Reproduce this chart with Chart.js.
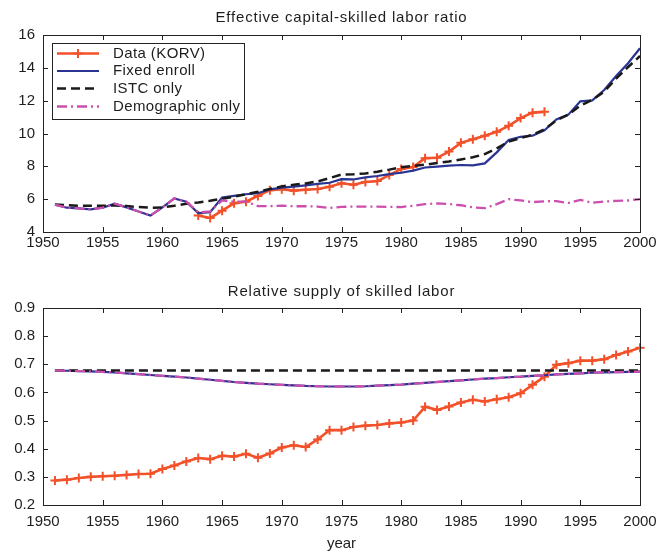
<!DOCTYPE html>
<html>
<head>
<meta charset="utf-8">
<script src="https://cdn.jsdelivr.net/npm/chart.js@4"></script>
<style>
  html, body { margin: 0; padding: 0; background: #fff; }
  #wrap { position: relative; width: 658px; height: 553px; }
  canvas { position: absolute; left: 0; }
  #c1 { top: 0; }
  #c2 { top: 280px; }
</style>
</head>
<body>
<div id="wrap">
  <canvas id="c1" width="658" height="260"></canvas>
  <canvas id="c2" width="658" height="273"></canvas>
</div>
<script>
// ---- Years ----
const modelYears = [1951,1952,1953,1954,1955,1956,1957,1958,1959,1960,
  1961,1962,1963,1964,1965,1966,1967,1968,1969,1970,
  1971,1972,1973,1974,1975,1976,1977,1978,1979,1980,
  1981,1982,1983,1984,1985,1986,1987,1988,1989,1990,
  1991,1992,1993,1994,1995,1996,1997,1998,1999,2000];
const korvYearsRatio = [1963,1964,1965,1966,1967,1968,1969,1970,1971,1972,
  1973,1974,1975,1976,1977,1978,1979,1980,1981,1982,
  1983,1984,1985,1986,1987,1988,1989,1990,1991,1992];
const korvYearsSupply = modelYears;

// ---- Effective capital-skilled labor ratio ----
const ratioData = [5.0,4.85,5.3,5.75,5.85,6.2,6.55,6.6,6.52,6.57,
  6.62,6.76,6.97,6.88,7.05,7.1,7.47,7.84,7.96,8.5,
  8.52,8.9,9.43,9.65,9.86,10.1,10.47,10.94,11.27,11.32];
const ratioFixedEnroll = [5.67,5.48,5.44,5.38,5.48,5.72,5.5,5.25,5.0,5.5,
  6.05,5.85,5.15,5.2,6.1,6.2,6.3,6.36,6.6,6.7,
  6.76,6.84,6.93,7.0,7.22,7.2,7.33,7.41,7.53,7.61,
  7.74,7.93,7.98,8.04,8.08,8.06,8.18,8.85,9.6,9.8,
  9.87,10.2,10.86,11.15,11.96,12.02,12.65,13.5,14.28,15.19];
const ratioISTC = [5.68,5.63,5.6,5.6,5.6,5.62,5.58,5.52,5.48,5.5,
  5.6,5.72,5.8,5.9,6.03,6.15,6.3,6.45,6.62,6.78,
  6.88,6.96,7.08,7.28,7.5,7.52,7.57,7.67,7.8,7.95,
  8.02,8.1,8.2,8.3,8.42,8.55,8.75,9.1,9.5,9.72,
  9.92,10.25,10.8,11.15,11.7,12.05,12.55,13.35,14.05,14.72];
const ratioDemographic = [5.67,5.48,5.44,5.38,5.48,5.72,5.5,5.25,5.0,5.5,
  6.05,5.85,5.2,5.25,5.92,5.85,5.85,5.58,5.58,5.6,
  5.57,5.57,5.55,5.47,5.53,5.55,5.55,5.55,5.53,5.52,
  5.6,5.7,5.74,5.7,5.63,5.5,5.45,5.7,6.0,5.92,
  5.82,5.87,5.88,5.77,5.95,5.78,5.85,5.9,5.92,6.0];

// ---- Relative supply of skilled labor ----
const supplyData = [0.287,0.290,0.296,0.300,0.302,0.304,0.307,0.310,0.311,0.328,
  0.340,0.355,0.367,0.363,0.375,0.372,0.382,0.368,0.383,0.404,
  0.412,0.406,0.433,0.466,0.466,0.477,0.482,0.484,0.490,0.493,
  0.500,0.549,0.538,0.550,0.564,0.574,0.568,0.576,0.583,0.597,
  0.627,0.656,0.698,0.704,0.713,0.713,0.718,0.733,0.745,0.759];
const supplyFixedEnroll = [0.678,0.677,0.676,0.675,0.673,0.671,0.668,0.665,0.662,0.659,
  0.656,0.653,0.649,0.645,0.641,0.637,0.634,0.631,0.629,0.627,
  0.625,0.623,0.622,0.621,0.621,0.621,0.622,0.624,0.626,0.628,
  0.631,0.634,0.637,0.640,0.643,0.646,0.649,0.651,0.654,0.656,
  0.659,0.661,0.664,0.666,0.668,0.670,0.671,0.672,0.673,0.674];
const supplyISTC = [0.678,0.678,0.678,0.678,0.678,0.678,0.678,0.678,0.678,0.678,
  0.678,0.678,0.678,0.678,0.678,0.678,0.678,0.678,0.678,0.678,
  0.678,0.678,0.678,0.678,0.678,0.678,0.678,0.678,0.678,0.678,
  0.678,0.678,0.678,0.678,0.678,0.678,0.678,0.678,0.678,0.678,
  0.678,0.678,0.678,0.678,0.678,0.678,0.678,0.678,0.678,0.678];
const supplyDemographic = [0.678,0.677,0.676,0.675,0.673,0.671,0.668,0.665,0.662,0.659,
  0.656,0.653,0.649,0.645,0.641,0.637,0.634,0.631,0.629,0.627,
  0.625,0.623,0.622,0.621,0.621,0.621,0.622,0.624,0.626,0.628,
  0.631,0.634,0.637,0.640,0.643,0.646,0.649,0.651,0.654,0.656,
  0.659,0.661,0.664,0.666,0.668,0.670,0.671,0.672,0.673,0.674];

// ---- Labels ----
const seriesNames = ['Data (KORV)', 'Fixed enroll', 'ISTC only', 'Demographic only'];
const titleRatio = 'Effective capital-skilled labor ratio';
const titleSupply = 'Relative supply of skilled labor';
const xAxisTitle = 'year';
const xTicks = [1950, 1955, 1960, 1965, 1970, 1975, 1980, 1985, 1990, 1995, 2000];

const FONT = '"Liberation Sans", Arial, Helvetica, sans-serif';
const TEXT = '#1e1e1e';
const RED = '#f2512a';
const BLUE = '#2a3593';
const BLACK = '#1a1a1a';
const PINK = '#cc4fae';

const pts = (xs, ys) => xs.map((x, i) => ({ x, y: ys[i] }));

function makeDatasets(dataX, dataY, fixed, istc, demo) {
  return [
    { label: seriesNames[0], data: pts(dataX, dataY), borderColor: RED, backgroundColor: RED,
      borderWidth: 2.6, pointStyle: 'cross', pointRadius: 4.5, pointBorderWidth: 2,
      pointBorderColor: RED, order: 4 },
    { label: seriesNames[1], data: pts(modelYears, fixed), borderColor: BLUE,
      borderWidth: 2.2, pointRadius: 0, order: 3 },
    { label: seriesNames[2], data: pts(modelYears, istc), borderColor: BLACK,
      borderWidth: 2.5, borderDash: [9, 5], pointRadius: 0, order: 2 },
    { label: seriesNames[3], data: pts(modelYears, demo), borderColor: PINK,
      borderWidth: 2.3, borderDash: [10, 4, 2, 4], pointRadius: 0, order: 1 }
  ];
}

// Axes box, inward ticks on all sides, panel title and in-plot legend
const frame = {
  id: 'frame',
  afterDatasetsDraw(chart, args, opts) {
    const { ctx, chartArea: a, scales } = chart;
    ctx.save();
    ctx.strokeStyle = '#222';
    ctx.lineWidth = 1;
    ctx.setLineDash([]);
    ctx.strokeRect(Math.round(a.left) + 0.5, Math.round(a.top) + 0.5,
      Math.round(a.right - a.left), Math.round(a.bottom - a.top));
    ctx.beginPath();
    scales.x.ticks.forEach(t => {
      const px = Math.round(scales.x.getPixelForValue(t.value)) + 0.5;
      ctx.moveTo(px, a.bottom); ctx.lineTo(px, a.bottom - 5);
      ctx.moveTo(px, a.top); ctx.lineTo(px, a.top + 5);
    });
    scales.y.ticks.forEach(t => {
      const py = Math.round(scales.y.getPixelForValue(t.value)) + 0.5;
      ctx.moveTo(a.left, py); ctx.lineTo(a.left + 5, py);
      ctx.moveTo(a.right, py); ctx.lineTo(a.right - 5, py);
    });
    ctx.stroke();

    ctx.fillStyle = TEXT;
    ctx.font = '15px ' + FONT;
    ctx.letterSpacing = '0.8px';
    ctx.textAlign = 'center';
    ctx.textBaseline = 'middle';
    ctx.fillText(opts.title, (a.left + a.right) / 2, a.top - opts.titleGap);

    if (opts.legend) {
      const bx = 52, by = 43, bw = 192, bh = 76;
      ctx.fillStyle = '#fff';
      ctx.fillRect(bx, by, bw, bh);
      ctx.strokeStyle = '#222';
      ctx.lineWidth = 1;
      ctx.strokeRect(bx + 0.5, by + 0.5, bw, bh);
      const rows = [53.5, 71, 88.5, 106.5];
      chart.data.datasets.forEach((ds, i) => {
        const y = rows[i];
        ctx.save();
        ctx.strokeStyle = ds.borderColor;
        ctx.lineWidth = ds.borderWidth;
        ctx.setLineDash(ds.borderDash || []);
        ctx.beginPath();
        ctx.moveTo(57, y); ctx.lineTo(99, y);
        ctx.stroke();
        if (ds.pointStyle === 'cross') {
          ctx.setLineDash([]);
          ctx.lineWidth = 2;
          ctx.beginPath();
          ctx.moveTo(78, y - 4.5); ctx.lineTo(78, y + 4.5);
          ctx.moveTo(73.5, y); ctx.lineTo(82.5, y);
          ctx.stroke();
        }
        ctx.restore();
        ctx.fillStyle = TEXT;
        ctx.font = '15px ' + FONT;
        ctx.letterSpacing = '0.4px';
        ctx.textAlign = 'left';
        ctx.textBaseline = 'middle';
        ctx.fillText(ds.label, 113, y);
      });
    }
    ctx.restore();
  }
};

function baseOptions(yMin, yMax, yStep, yFmt, xLabelPad, padTop, xHeight, withXTitle, plugOpts) {
  return {
    responsive: false,
    animation: false,
    devicePixelRatio: 1,
    layout: { padding: { top: padTop, right: 18, left: 0, bottom: 0 } },
    elements: { line: { tension: 0, fill: false } },
    datasets: { line: { clip: false } },
    plugins: { legend: { display: false }, tooltip: { enabled: false }, frame: plugOpts },
    scales: {
      x: {
        type: 'linear', min: 1950, max: 2000,
        afterBuildTicks: s => { s.ticks = xTicks.map(v => ({ value: v })); },
        grid: { display: false, drawTicks: false },
        border: { display: false },
        ticks: { padding: xLabelPad, color: TEXT, font: { family: FONT, size: 15 },
                 maxRotation: 0, autoSkip: false, callback: v => String(v) },
        title: { display: withXTitle, text: xAxisTitle, color: TEXT,
                 font: { family: FONT, size: 15 }, padding: { top: 0, bottom: 0 } },
        afterFit: s => { s.height = xHeight; s.paddingLeft = 0; s.paddingRight = 0; }
      },
      y: {
        min: yMin, max: yMax,
        grid: { display: false, drawTicks: false },
        border: { display: false },
        ticks: { stepSize: yStep, padding: 8, color: TEXT, font: { family: FONT, size: 15 },
                 callback: yFmt },
        afterFit: s => { s.width = 43; s.paddingTop = 0; s.paddingBottom = 0; }
      }
    }
  };
}

new Chart(document.getElementById('c1'), {
  type: 'line',
  data: { datasets: makeDatasets(korvYearsRatio, ratioData, ratioFixedEnroll, ratioISTC, ratioDemographic) },
  options: baseOptions(4, 16, 2, v => String(v), 2, 35, 28, false,
    { title: titleRatio, titleGap: 17, legend: true }),
  plugins: [frame]
});

new Chart(document.getElementById('c2'), {
  type: 'line',
  data: { datasets: makeDatasets(korvYearsSupply, supplyData, supplyFixedEnroll, supplyISTC, supplyDemographic) },
  options: baseOptions(0.2, 0.9, 0.1, v => Number(v).toFixed(1), 8, 28, 48, true,
    { title: titleSupply, titleGap: 16, legend: false }),
  plugins: [frame]
});
</script>
</body>
</html>
